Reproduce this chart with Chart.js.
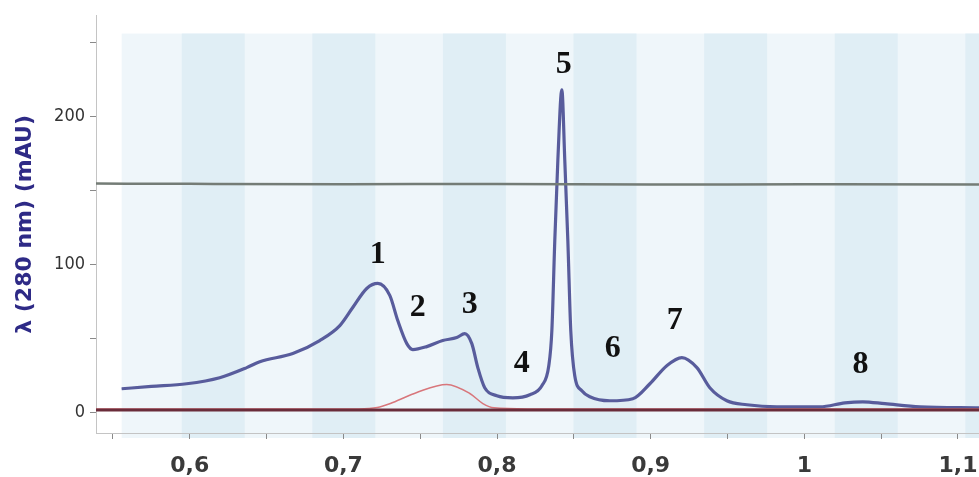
<!DOCTYPE html>
<html>
<head>
<meta charset="utf-8">
<script src="https://cdn.jsdelivr.net/npm/chart.js"></script>
<style>
html, body { margin: 0; padding: 0; background: #fff; }
</style>
</head>
<body>
<canvas id="chart" width="979" height="477"></canvas>
<script>
// Chromatogram: absorbance at 280 nm vs elution (blue = main trace, red = second channel)
const blueX = [0.5557, 0.575, 0.598, 0.6195, 0.6371, 0.6456, 0.6671, 0.6846, 0.6977, 0.7061, 0.7152, 0.7224,
    0.7302, 0.7354, 0.7413, 0.7452, 0.7543, 0.7647, 0.7738, 0.779, 0.7836, 0.7875, 0.792, 0.7999, 0.8103,
    0.8214, 0.8292, 0.8337, 0.8357, 0.8376, 0.8396, 0.8422, 0.8441, 0.8461, 0.848, 0.8506, 0.8552, 0.8604,
    0.8734, 0.8884, 0.8995, 0.9105, 0.9203, 0.9301, 0.9385, 0.9496, 0.9626, 0.9822, 1.0102, 1.0264, 1.0381,
    1.0525, 1.0753, 1.1137];
const blueY = [15.9, 17.5, 19.3, 23.4, 30.2, 34.2, 39.7, 48.5, 58.6, 70.8, 83.7, 87.1,
    79, 62, 46.4, 42.4, 44.4, 48.5, 50.5, 53.2, 46.4, 30.2, 16.6, 11.2, 9.8,
    11.9, 18, 31.5, 55.3, 116, 170.5, 218, 170.5, 116, 55.3, 24.7, 14.6, 10.5,
    7.8, 9.2, 19.3, 31.5, 37, 30.2, 16.6, 7.8, 5.1, 3.7, 3.7, 6.4, 7.1,
    5.8, 3.7, 3.0];

const redX = [0.539, 0.71, 0.722, 0.7322, 0.7478, 0.7673, 0.7823, 0.7908, 0.798, 0.82, 1.1137];
const redY = [2.3, 2.3, 3.2, 6.6, 13.4, 18.8, 12.7, 5.9, 3, 2.3, 2.3];

const baseX = [0.539, 1.1137];
const baseY = [1.5, 1.5];

const greyX = [0.539, 0.6, 0.7, 0.8, 0.9, 1.0, 1.1137];
const greyY = [154.6, 154.4, 154.2, 154.3, 154, 154.1, 154];

const peakLabels = ['1', '2', '3', '4', '5', '6', '7', '8'];
const peakX = [0.7224, 0.7484, 0.7823, 0.8161, 0.8435, 0.8754, 0.9157, 1.0365];
const peakY = [106.2, 70.6, 72.7, 32.9, 235, 43.2, 62.1, 32.3];

const xTickVals = [0.6, 0.7, 0.8, 0.9, 1.0, 1.1];
const xTickText = ['0,6', '0,7', '0,8', '0,9', '1', '1,1'];
const yTickVals = [0, 100, 200];
const yTickText = ['0', '100', '200'];

function pts(xs, ys) {
    return xs.map((x, i) => ({ x: x, y: ys[i] }));
}

// shaded plot background with vertical bands
const bands = {
    id: 'bands',
    beforeDraw(chart) {
        const { ctx, chartArea } = chart;
        const x = chart.scales.x, y = chart.scales.y;
        const left = x.getPixelForValue(0.5557);
        const top = y.getPixelForValue(256);
        const bottom = chartArea.bottom + 5;
        const right = chartArea.right;
        ctx.save();
        ctx.fillStyle = '#eff6fa';
        ctx.fillRect(left, top, right - left, bottom - top);
        ctx.fillStyle = '#e0eef5';
        for (let s = 0.5948; s < x.max; s += 0.085) {
            const a = x.getPixelForValue(s);
            const b = Math.min(right, x.getPixelForValue(s + 0.041));
            ctx.fillRect(a, top, b - a, bottom - top);
        }
        ctx.restore();
    }
};

const peakNumbers = {
    id: 'peakNumbers',
    afterDatasetsDraw(chart) {
        const { ctx } = chart;
        const x = chart.scales.x, y = chart.scales.y;
        ctx.save();
        ctx.font = 'bold 32px "Liberation Serif", "DejaVu Serif", serif';
        ctx.fillStyle = '#111';
        ctx.textAlign = 'center';
        ctx.textBaseline = 'middle';
        peakLabels.forEach((t, i) => {
            ctx.fillText(t, x.getPixelForValue(peakX[i]), y.getPixelForValue(peakY[i]));
        });
        ctx.restore();
    }
};

const lineDefaults = { pointRadius: 0, fill: false, cubicInterpolationMode: 'monotone' };

new Chart(document.getElementById('chart'), {
    type: 'line',
    data: {
        datasets: [
            Object.assign({ data: pts(greyX, greyY), borderColor: '#747c76', borderWidth: 2.5 }, lineDefaults),
            Object.assign({ data: pts(baseX, baseY), borderColor: '#6a2c3a', borderWidth: 3 }, lineDefaults),
            Object.assign({ data: pts(redX, redY), borderColor: '#d8767b', borderWidth: 1.5 }, lineDefaults),
            Object.assign({ data: pts(blueX, blueY), borderColor: '#585c9c', borderWidth: 3.2 }, lineDefaults),
            Object.assign({ data: pts(blueX, blueY), borderColor: '#a7aad6', borderWidth: 1 }, lineDefaults)
        ]
    },
    options: {
        responsive: false,
        animation: false,
        devicePixelRatio: 1,
        layout: { padding: { top: 15, right: 0, left: 0, bottom: 0 } },
        plugins: { legend: { display: false }, tooltip: { enabled: false } },
        scales: {
            x: {
                type: 'linear',
                min: 0.539,
                max: 1.1137,
                afterFit: s => { s.height = 44; s.paddingLeft = 0; s.paddingRight = 0; },
                grid: { drawOnChartArea: false, tickLength: 6, tickColor: '#8a8a8a' },
                border: { color: '#c4c4c4' },
                ticks: {
                    stepSize: 0.05,
                    includeBounds: false,
                    autoSkip: false,
                    maxRotation: 0,
                    padding: 14,
                    color: '#3a3a3a',
                    font: { family: '"DejaVu Sans", sans-serif', size: 22, weight: 'bold' },
                    callback: v => {
                        const i = xTickVals.findIndex(t => Math.abs(t - v) < 1e-6);
                        return i < 0 ? '' : xTickText[i];
                    }
                }
            },
            y: {
                min: -14,
                max: 268,
                afterFit: s => { s.width = 96; },
                grid: { drawOnChartArea: false, tickLength: 6, tickColor: '#8a8a8a' },
                border: { color: '#c4c4c4' },
                ticks: {
                    stepSize: 50,
                    includeBounds: false,
                    padding: 5,
                    color: '#333',
                    font: { family: '"DejaVu Sans Condensed", "DejaVu Sans", sans-serif', size: 18 },
                    callback: v => {
                        const i = yTickVals.indexOf(v);
                        return i < 0 ? '' : yTickText[i];
                    }
                },
                title: {
                    display: true,
                    text: 'λ (280 nm) (mAU)',
                    color: '#2e2a86',
                    font: { family: '"DejaVu Sans", sans-serif', size: 22, weight: 'bold' },
                    padding: { top: 12, bottom: 0 }
                }
            }
        }
    },
    plugins: [bands, peakNumbers]
});
</script>
</body>
</html>
